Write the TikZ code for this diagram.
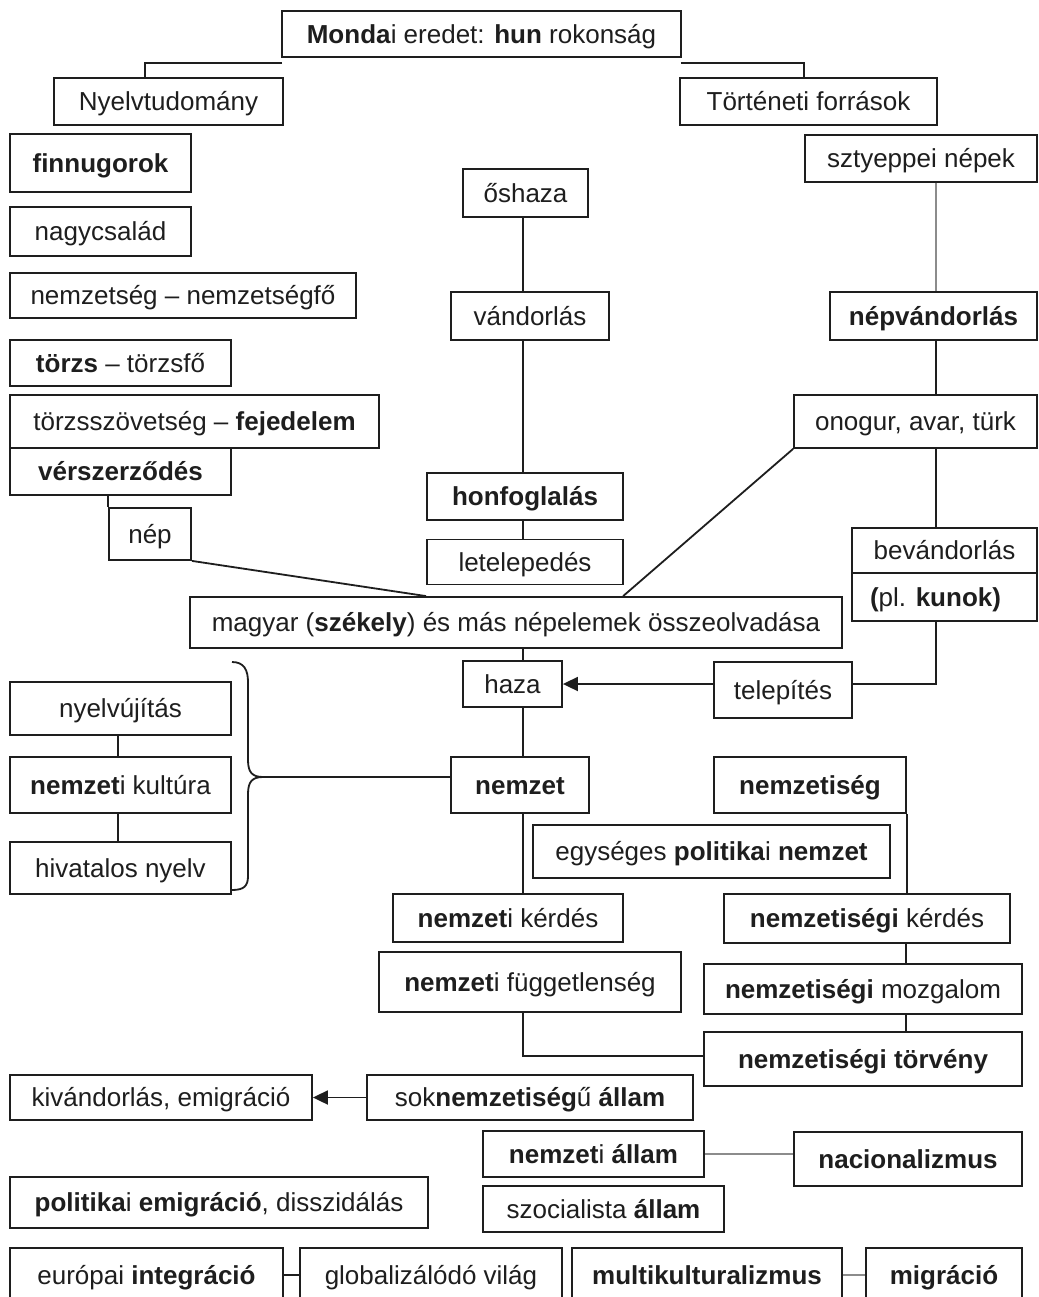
\documentclass[tikz,border=0pt]{standalone}
\usepackage{fontspec}
\setmainfont{Liberation Sans}
\usetikzlibrary{arrows.meta,calc}
\definecolor{ink}{RGB}{30,30,30}
\definecolor{gline}{RGB}{140,140,140}
\newcommand\mybox[6]{\node[bx,minimum width=#4pt,minimum height=#5pt] (#1) at (#2,#3) {#6};}
\begin{document}
\begin{tikzpicture}[x=1pt,y=-1pt,
  bx/.style={draw=ink, line width=1.8pt, inner sep=0pt, text height=18.5pt, text depth=0pt,
    font=\fontsize{26}{30}\selectfont, text=ink},
  ln/.style={draw=ink, line width=1.8pt},
  gl/.style={draw=gline, line width=2.2pt},
  arr/.style={ln, -{Triangle[length=15pt,width=14pt]}}]
\useasboundingbox (0,0) rectangle (1038,1297);
\clip (0,0) rectangle (1038,1297);
\fill[white] (0,0) rectangle (1038,1297);
\coordinate (col) at (523,0);
\coordinate (rcol) at (936,0);
\coordinate (ncol) at (906,0);
\coordinate (lcol) at (118,0);

% top
\mybox{mondai}{481.5}{34}{399}{46}{\textbf{Monda}i eredet: \textbf{hun} rokonság}
\mybox{nyelv}{168.5}{101.5}{229}{47}{Nyelvtudomány}
\mybox{tort}{808.5}{101.5}{257}{47}{Történeti források}

% left column
\mybox{finn}{100.5}{163}{181}{58}{\textbf{finnugorok}}
\mybox{nagycs}{100.5}{231.5}{181}{49}{nagycsalád}
\mybox{nemzetseg}{183}{295.5}{346}{45}{nemzetség – nemzetségfő}
\mybox{torzs}{120.5}{363}{221}{46}{\textbf{törzs} – törzsfő}
\mybox{torzsszov}{194.5}{421.5}{369}{53}{törzsszövetség – \textbf{fejedelem}}
\mybox{verszer}{120.5}{471.5}{221}{47}{\textbf{vérszerződés}}
\mybox{nep}{150}{534}{82}{52}{nép}

% middle column
\mybox{oshaza}{525.5}{193}{125}{48}{őshaza}
\mybox{vandor}{530}{316}{158}{48}{vándorlás}
\mybox{honf}{525}{496.5}{196}{47}{\textbf{honfoglalás}}
\mybox{letel}{525}{562}{196}{45}{letelepedés}

% right column
\mybox{sztyep}{921}{158.5}{232}{47}{sztyeppei népek}
\mybox{nepvand}{933.5}{316}{207}{48}{\textbf{népvándorlás}}
\mybox{onogur}{915.5}{421.5}{243}{53}{onogur, avar, türk}
\mybox{bevand}{944.5}{550.5}{185}{45}{bevándorlás}
\mybox{kunok}{944.5}{597}{185}{48}{\hspace*{-18pt}\textbf{(}pl. \textbf{kunok)}}

\mybox{magyar}{516}{622.5}{652}{51}{magyar (\textbf{székely}) és más népelemek összeolvadása}
\mybox{haza}{512.5}{684}{99}{46}{haza}
\mybox{telep}{783}{690}{138}{56}{telepítés}

\mybox{nyelvuj}{120.5}{708.5}{221}{53}{nyelvújítás}
\mybox{nkult}{120.5}{785}{221}{56}{\textbf{nemzet}i kultúra}
\mybox{hivnyelv}{120.5}{868}{221}{52}{hivatalos nyelv}

\mybox{nemzet}{520}{785}{138}{56}{\textbf{nemzet}}
\mybox{nemzetiseg}{810}{785}{192}{56}{\textbf{nemzetiség}}
\mybox{egyseges}{711.5}{851.5}{357}{53}{egységes \textbf{politika}i \textbf{nemzet}}
\mybox{nkerdes}{508}{918}{230}{48}{\textbf{nemzet}i kérdés}
\mybox{nfugg}{530}{982}{302}{60}{\textbf{nemzet}i függetlenség}
\mybox{nsegkerdes}{867}{918.5}{286}{49}{\textbf{nemzetiségi} kérdés}
\mybox{mozgalom}{863}{989}{318}{50}{\textbf{nemzetiségi} mozgalom}
\mybox{torveny}{863}{1059}{318}{54}{\textbf{nemzetiségi törvény}}

\mybox{sokn}{530}{1097.5}{326}{45}{sok\textbf{nemzetiség}ű \textbf{állam}}
\mybox{kivand}{161}{1097.5}{302}{45}{kivándorlás, emigráció}
\mybox{nallam}{593.5}{1154}{221}{46}{\textbf{nemzet}i \textbf{állam}}
\mybox{nacional}{908}{1159}{228}{54}{\textbf{nacionalizmus}}
\mybox{szoc}{603.5}{1209}{241}{46}{szocialista \textbf{állam}}
\mybox{polem}{219}{1202.5}{418}{51}{\textbf{politika}i \textbf{emigráció}, disszidálás}

\mybox{europ}{146.5}{1275}{273}{54}{európai \textbf{integráció}}
\mybox{glob}{431}{1275}{262}{54}{globalizálódó világ}
\mybox{multi}{707}{1275}{270}{54}{\textbf{multikulturalizmus}}
\mybox{migr}{944}{1275}{156}{54}{\textbf{migráció}}

% connectors
\draw[ln] ($(mondai.south west)+(1,5)$) -| ($(nyelv.north west)+(92,0)$);
\draw[ln] ($(mondai.south east)+(-1,5)$) -| ($(tort.north west)+(125,0)$);

\draw[gl] (sztyep.south -| rcol) -- (nepvand.north -| rcol);
\draw[ln] (nepvand.south -| rcol) -- (onogur.north -| rcol);
\draw[ln] (onogur.south -| rcol) -- (bevand.north -| rcol);
\draw[ln] (kunok.south -| rcol) |- (telep.east |- haza.east);
\draw[arr] (telep.west |- haza.east) -- (haza.east);

\draw[ln] (oshaza.south -| col) -- (vandor.north -| col);
\draw[ln] (vandor.south -| col) -- (honf.north -| col);
\draw[ln] (honf.south -| col) -- (letel.north -| col);
\draw[ln] (magyar.south -| col) -- (haza.north -| col);
\draw[ln] (haza.south -| col) -- (nemzet.north -| col);
\draw[ln] (nemzet.south -| col) -- (nkerdes.north -| col);
\draw[ln] (nfugg.south -| col) |- ($(torveny.west)+(0,-3)$);

\draw[ln] (verszer.south -| nep.west) -- (nep.north west);
\draw[ln] (nep.south east) -- ($(magyar.north west)+(237,0)$);
\draw[ln] (onogur.south west) -- ($(magyar.north west)+(434,0)$);

\draw[ln] (nyelvuj.south -| lcol) -- (nkult.north -| lcol);
\draw[ln] (nkult.south -| lcol) -- (hivnyelv.north -| lcol);

% brace
\draw[ln] (232,662) .. controls (244,662) and (248,670) .. (248,682) -- (248,760)
  .. controls (248,772) and (252,777) .. (263,777) coordinate (tip);
\draw[ln] (tip) .. controls (252,777) and (248,782) .. (248,794) -- (248,876)
  .. controls (248,886) and (244,890) .. (232,890);
\draw[ln] (tip) -- (tip -| nemzet.west);

\draw[ln] (nemzetiseg.south east) -- (nsegkerdes.north -| nemzetiseg.south east);
\draw[ln] (nsegkerdes.south -| ncol) -- (mozgalom.north -| ncol);
\draw[ln] (mozgalom.south -| ncol) -- (torveny.north -| ncol);

\draw[arr] (sokn.west) -- (kivand.east);
\draw[gl] (nallam.east) -- (nacional.west |- nallam.east);
\draw[ln] (europ.east) -- (glob.west);
\draw[gl] (multi.east) -- (migr.west);
\end{tikzpicture}
\end{document}
